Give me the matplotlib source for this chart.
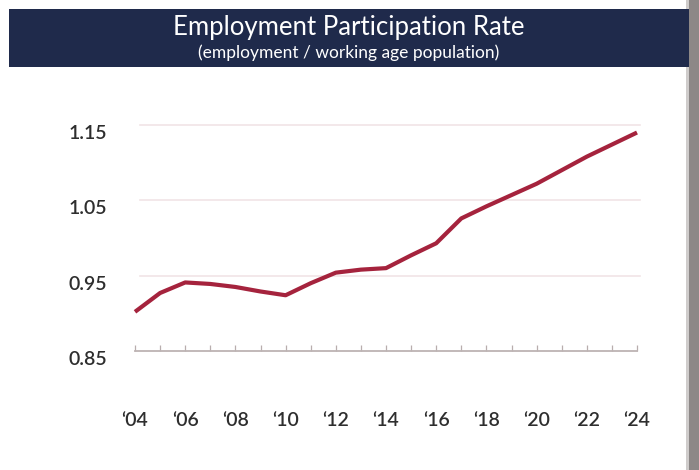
import matplotlib
matplotlib.use("Agg")
import matplotlib.pyplot as plt
from matplotlib.patches import Rectangle
from matplotlib.transforms import ScaledTranslation

# --- data ---
years = list(range(2004, 2025))
rate = [0.902, 0.927, 0.941, 0.939, 0.935, 0.929, 0.924, 0.940, 0.954, 0.958,
        0.960, 0.977, 0.993, 1.026, 1.042, 1.057, 1.072, 1.090, 1.108, 1.124, 1.140]
xtick_years = list(range(2004, 2025, 2))
xtick_labels = ["\u2018" + str(y)[2:] for y in xtick_years]
ytick_vals = [0.85, 0.95, 1.05, 1.15]
ytick_labels = ["0.85", "0.95", "1.05", "1.15"]

title = "Employment Participation Rate"
subtitle = "(employment / working age population)"

W, H = 699, 470
fig = plt.figure(figsize=(W / 100, H / 100), dpi=100)
fig.patch.set_facecolor("white")

# card shadow on the right edge + navy header band
fig.patches.append(Rectangle((689 / W, 0), 10 / W, 1, transform=fig.transFigure,
                             facecolor="#8d8887", edgecolor="none", zorder=0))
fig.patches.append(Rectangle((686 / W, 0), 3 / W, 1, transform=fig.transFigure,
                             facecolor="#cfcccb", edgecolor="none", zorder=0))
fig.patches.append(Rectangle((9 / W, 1 - 67 / H), 680 / W, 58 / H, transform=fig.transFigure,
                             facecolor="#1f2a4b", edgecolor="none", zorder=1))
fig.text(349 / W, 1 - 28 / H, title, ha="center", va="center", color="white",
         fontsize=18.5, family="Lato", zorder=2)
fig.text(349 / W, 1 - 53 / H, subtitle, ha="center", va="center", color="white",
         fontsize=12.5, family="Lato", zorder=2)

# plot area: 2004 -> x=135px, 2024 -> x=637px, 0.85 -> y=351px, 1.15 -> y=125px
ax = fig.add_axes([135 / W, 1 - 351 / H, 502 / W, 226 / H])
ax.set_xlim(2004, 2024)
ax.set_ylim(0.85, 1.15)
for s in ax.spines.values():
    s.set_visible(False)

for v in ytick_vals[1:]:
    ax.axhline(v, xmin=0.01, xmax=1.005, color="#f1e4e6", lw=1.2, zorder=1, clip_on=False)
ax.axhline(0.85, color="#bdb3b3", lw=1.3, zorder=2, clip_on=False)

ax.plot(years, rate, color="#a5233d", lw=3, solid_capstyle="butt",
        solid_joinstyle="round", zorder=3, clip_on=False)

# yearly small tick marks on the base line
ax.set_xticks(years, minor=True)
ax.tick_params(axis="x", which="minor", direction="in", length=4, width=0.9,
               color="#b8aeae", bottom=True, top=False)
ax.set_xticks(xtick_years)
ax.set_xticklabels(xtick_labels, fontsize=14, family="Lato", fontweight="semibold",
                   color="#2e2e2e")
ax.tick_params(axis="x", which="major", length=4, width=0.9, direction="in",
               color="#b8aeae", pad=44)

ax.set_yticks(ytick_vals)
ax.set_yticklabels(ytick_labels, fontsize=14, family="Lato", fontweight="semibold",
                   color="#2e2e2e")
ax.tick_params(axis="y", length=0, pad=20)
offset = ScaledTranslation(0, -7 / 100, fig.dpi_scale_trans)
for lab in ax.get_yticklabels():
    lab.set_transform(lab.get_transform() + offset)

fig.savefig("out.png", dpi=100, facecolor="white")
